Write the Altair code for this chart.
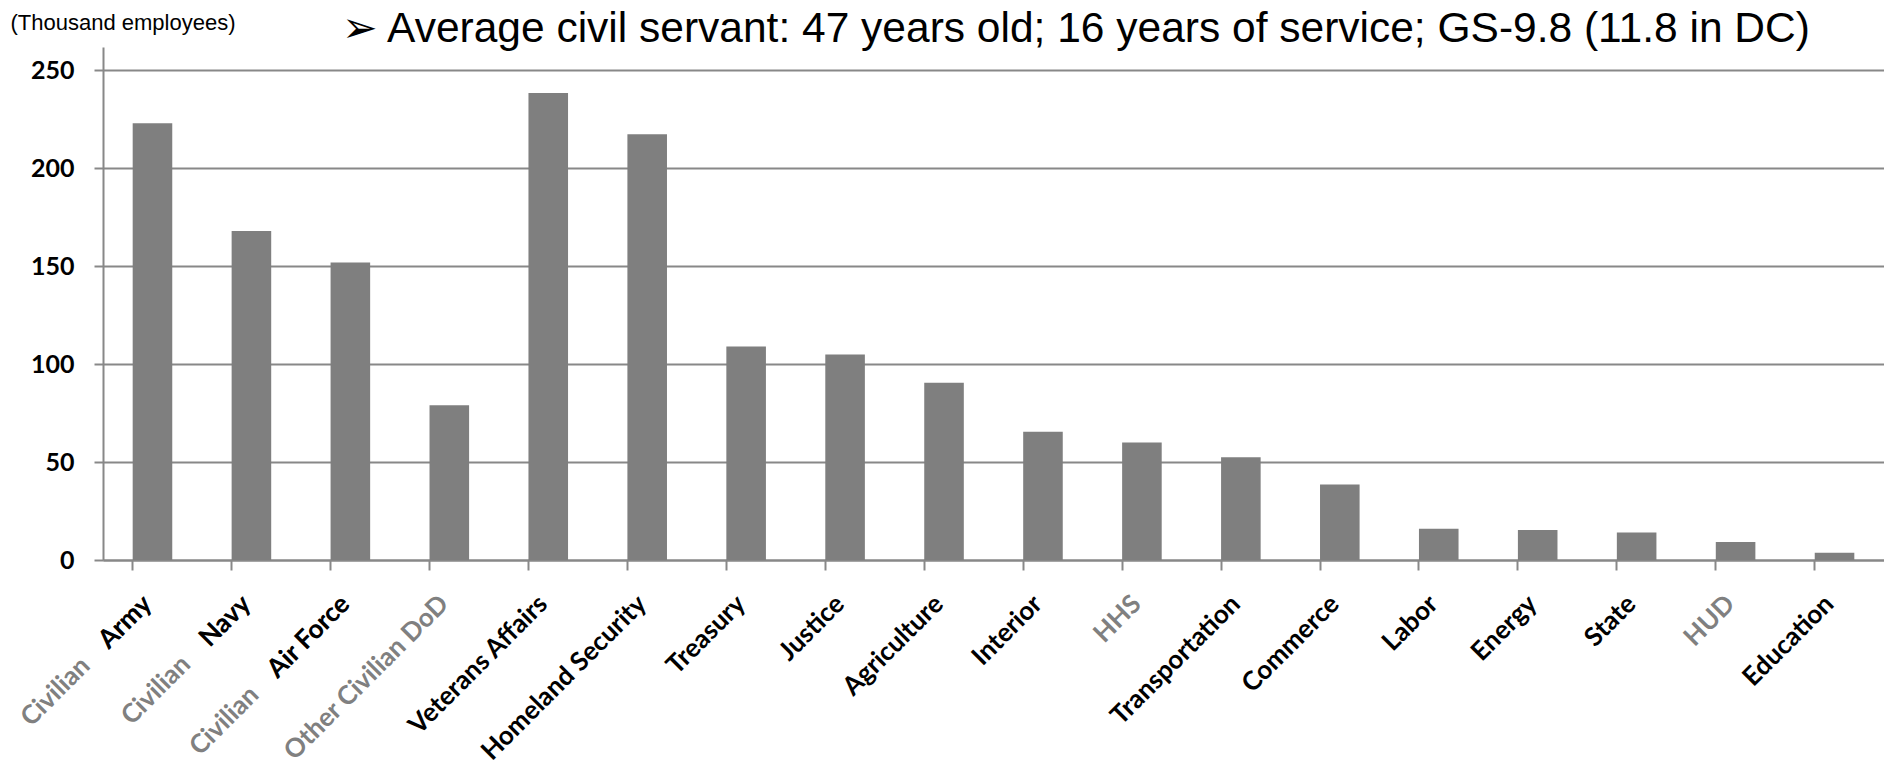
import altair as alt
import pandas as pd

departments = ["Civilian Army", "Civilian Navy", "Civilian Air Force", "Other Civilian DoD",
               "Veterans Affairs", "Homeland Security", "Treasury", "Justice", "Agriculture",
               "Interior", "HHS", "Transportation", "Commerce", "Labor", "Energy", "State",
               "HUD", "Education"]
employees = [223, 168, 152, 79, 238.5, 217.5, 109, 105, 90.5, 65.5, 60, 52.5, 38.5,
             16, 15.3, 14, 9.2, 3.7]
prefixes = ["Civilian", "Civilian", "Civilian"] + [""] * 15
names = ["Army", "Navy", "Air Force", "Other Civilian DoD", "Veterans Affairs",
         "Homeland Security", "Treasury", "Justice", "Agriculture", "Interior", "HHS",
         "Transportation", "Commerce", "Labor", "Energy", "State", "HUD", "Education"]
grey_names = ["Other Civilian DoD", "HHS", "HUD"]
y_ticks = [0, 50, 100, 150, 200, 250]

NB = "\u00a0"
full_labels = [p + NB * 4 + n if p else n for p, n in zip(prefixes, names)]
label_colors = ["#808080" if (p or n in grey_names) else "#000000" for p, n in zip(prefixes, names)]

df = pd.DataFrame({"dept": departments, "value": employees, "full": full_labels,
                   "main": names, "prefix": prefixes, "color": label_colors})

W, H = 1781, 513
GREY = "#888888"

x_enc = alt.X("dept:N", sort=departments,
              scale=alt.Scale(paddingInner=0.6, paddingOuter=0.3),
              axis=alt.Axis(title=None, labels=False, bandPosition=0, ticks=True,
                            tickSize=10, tickColor=GREY, tickWidth=2,
                            domainColor=GREY, domainWidth=2, grid=False))

y_enc = alt.Y("value:Q", scale=alt.Scale(domain=[0, 262], nice=False, zero=True),
              axis=alt.Axis(values=y_ticks, grid=True, gridColor=GREY, gridWidth=2,
                            domainColor=GREY, domainWidth=2, tickSize=9, tickColor=GREY,
                            tickWidth=2, labelFont="Lato", labelFontWeight="bold",
                            labelFontSize=25, labelColor="#000000", labelPadding=20,
                            title="(Thousand employees)", titleAngle=0, titleAlign="left",
                            titleBaseline="middle", titleX=-93, titleY=-25,
                            titleFont="Liberation Sans", titleFontSize=22,
                            titleFontWeight="normal", titleColor="#000000"))

bars = alt.Chart(df).mark_bar(color="#7f7f7f").encode(x=x_enc, y=y_enc)

label_props = dict(angle=315, align="right", baseline="middle", font="Lato",
                   fontWeight="bold", fontSize=26, dx=-7)

labels = alt.Chart(df).mark_text(**label_props).encode(
    x=x_enc, y=alt.value(H + 35), text="full:N",
    color=alt.Color("color:N", scale=None))

overlay = alt.Chart(df).transform_filter("datum.prefix != ''").mark_text(
    color="#000000", **label_props).encode(
    x=x_enc, y=alt.value(H + 35), text="main:N")

chart = alt.layer(bars, labels, overlay).properties(
    width=W, height=H,
    title=alt.TitleParams(
        text="\u27a2 Average civil servant: 47 years old; 16 years of service; GS-9.8 (11.8 in DC)",
        anchor="start", frame="group", dx=239, dy=73, font="Liberation Sans, DejaVu Sans",
        fontSize=42.5, fontWeight="normal", color="#000000", baseline="alphabetic", offset=0),
    autosize=alt.AutoSizeParams(type="none"),
    padding={"left": 103, "top": 47, "right": 0, "bottom": 204},
).configure_view(stroke=None)

chart.save("out.html", embed_options={"renderer": "svg", "actions": False})
